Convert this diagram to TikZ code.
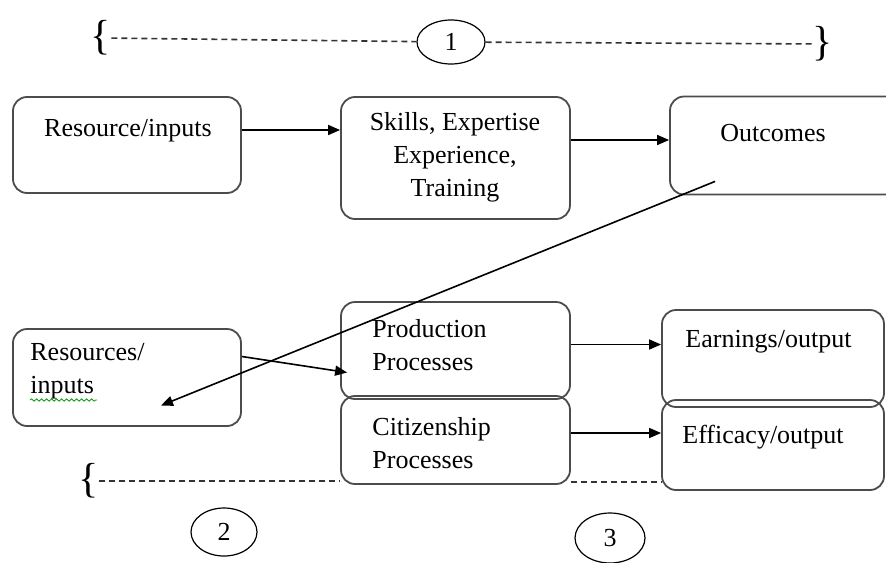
\documentclass[tikz,border=0pt]{standalone}
\usepackage{fontspec}
\setmainfont{Liberation Serif}
\usetikzlibrary{arrows.meta,shapes.geometric,calc,decorations.pathmorphing}
\tikzset{
    stage-box/.style = {draw=black!70, line width=0.9pt, rectangle, rounded corners=7pt, inner sep=0pt},
    stage-text/.style = {font=\fontsize{13}{16.5}\selectfont, inner sep=0pt, align=left},
    flow-arrow/.style = {-{Triangle[length=6pt,width=5pt]}, line width=0.8pt},
    span-line/.style = {dashed, dash pattern=on 3pt off 2pt, line width=0.8pt, black!80},
    tag-oval/.style = {draw, ellipse, line width=0.6pt, inner sep=0pt, font=\fontsize{13}{16}\selectfont},
    curly/.style = {font=\fontsize{21}{21}\selectfont, inner sep=0pt},
}

\begin{document}
\begin{tikzpicture}[x=0.5pt,y=-0.5pt]
\clip (0,0) rectangle (886,562);

% top row
\node[stage-box, minimum width=114pt, minimum height=48pt] (resA) at (127,145) {};
\node[stage-box, minimum width=114.5pt, minimum height=61pt] (skills) at (455.5,158) {};
\node[stage-box, minimum width=115pt, minimum height=49pt] (outc) at (785,145.5) {};
\node[stage-text] (resA-t) at (128,131) {Resource/inputs};
\node[stage-text, align=center] (skills-t) at (455,157) {Skills, Expertise\\Experience,\\Training};
\node[stage-text, anchor=west] (outc-t) at (720,133) {Outcomes};

% bottom row
\node[stage-box, minimum width=114pt, minimum height=48.5pt] (resD) at (127,377.5) {};
\node[stage-box, minimum width=114.5pt, minimum height=48.5pt] (prod) at (455.5,350.5) {};
\node[stage-box, minimum width=114.5pt, minimum height=44pt] (citz) at (455.5,440) {};
\node[stage-box, minimum width=111pt, minimum height=48.5pt] (earn) at (773,358.5) {};
\node[stage-box, minimum width=111pt, minimum height=45pt] (eff) at (773,445) {};
\node[stage-text, anchor=west] (resD-t) at (30,371) {Resources/\\inputs};
\node[stage-text, anchor=west] (prod-t) at (372,345) {Production\\Processes};
\node[stage-text, anchor=west] (citz-t) at (372,443) {Citizenship\\Processes};
\node[stage-text, anchor=west] (earn-t) at (685,342) {Earnings/output};
\node[stage-text, anchor=west] (eff-t) at (682,437) {Efficacy/output};
\draw[green!60!black, line width=0.4pt, decorate, decoration={snake, amplitude=0.6pt, segment length=2.5pt}]
    (30,400) -- (97,400);

% numbered tags and braces
\node[tag-oval, minimum width=34pt, minimum height=22pt] (tag1) at (451,42) {1};
\node[tag-oval, minimum width=33pt, minimum height=24pt] (tag2) at (224,532) {2};
\node[tag-oval, minimum width=35pt, minimum height=25pt] (tag3) at (610,538) {3};
\node[curly] (br1l) at (101,38) {\{};
\node[curly] (br1r) at (823,44) {\}};
\node[curly] (br2l) at (89,481) {\{};

\draw[span-line] (br1l) -- (tag1);
\draw[span-line] (tag1) -- (br1r);
\draw[span-line] (br2l.east) -- (br2l.east -| citz.west);
\coordinate (gapL) at ($(citz.south east)+(0,-3)$);
\draw[span-line] (gapL) -- (gapL -| eff.west);

% arrows
\coordinate (a1) at ($(resA.east)+(0,-15)$);
\draw[flow-arrow] (a1) -- (a1 -| skills.west);
\coordinate (a2) at ($(skills.east)+(0,-18)$);
\draw[flow-arrow] (a2) -- (a2 -| outc.west);
\coordinate (back-from) at ($(outc.south west)+(46,-14)$);
\coordinate (back-to) at ($(resD.center)+(34,28)$);
\draw[flow-arrow] (back-from) -- (back-to);
\coordinate (d-out) at ($(resD.east)+(0,-21)$);
\coordinate (d-in) at ($(prod.west)+(7,22)$);
\draw[flow-arrow] (d-out) -- (d-in);
\coordinate (e-out) at ($(prod.east)+(0,-6)$);
\draw[flow-arrow] (e-out) -- (e-out -| earn.west);
\coordinate (f-out) at ($(citz.east)+(0,-7)$);
\draw[flow-arrow] (f-out) -- (f-out -| eff.west);
\end{tikzpicture}
\end{document}
